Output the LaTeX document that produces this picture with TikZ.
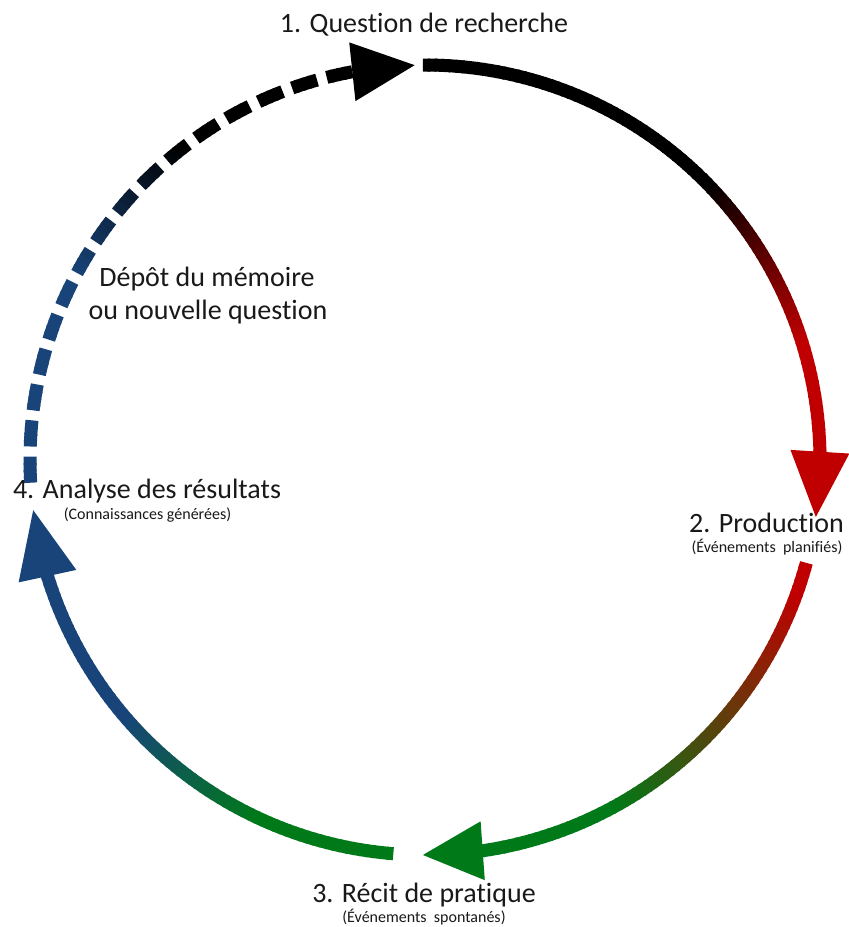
\documentclass[tikz,border=0pt]{standalone}
\usepackage{fontspec}
\setmainfont{Carlito}[Ligatures={NoCommon}]
\usetikzlibrary{calc}

\definecolor{cred}{RGB}{192,0,0}
\definecolor{cgreen}{RGB}{0,122,24}
\definecolor{cblue}{RGB}{24,68,122}
\definecolor{ctext}{RGB}{25,25,25}

\newcommand\cycR{395pt}

% Arc from angle #1 to #2, coloured from #3 (at angle #5) to #4 (at angle #6),
% drawn as #7 short overlapping pieces.
\newcommand\gradarc[7]{%
  \pgfmathtruncatemacro\gN{#7}%
  \foreach \gi in {1,...,\gN}{%
    \pgfmathsetmacro\ga{(#1)+((#2)-(#1))*max(\gi-1.3,0)/\gN}%
    \pgfmathsetmacro\gb{(#1)+((#2)-(#1))*\gi/\gN}%
    \pgfmathsetmacro\gm{(\ga+\gb)/2}%
    \pgfmathsetmacro\gt{100*max(0,min(1,((\gm)-(#5))/((#6)-(#5))))}%
    \draw[arcline, draw=#4!\gt!#3] (\ga:\cycR) arc[start angle=\ga, end angle=\gb, radius=\cycR];
  }%
}

% Triangular head: base centre at angle #1, tip at angle #2, colour #3, name #4
\newcommand\headtri[4]{%
  \coordinate (#4b) at (#1:\cycR);
  \coordinate (#4t) at (#2:\cycR);
  \fill[#3] ($(#4b)!29.5pt!90:(#4t)$) -- (#4t) -- ($(#4b)!29.5pt!-90:(#4t)$) -- cycle;
}

\tikzset{
  arcline/.style={line width=13pt},
  lbl/.style={anchor=base, inner sep=0pt, text=ctext, font=\fontsize{28}{33.6}\selectfont},
  sublbl/.style={anchor=base, inner sep=0pt, text=ctext, font=\fontsize{16}{19}\selectfont},
}

\begin{document}
\begin{tikzpicture}[x=1pt, y=1pt]
  \fill[white] (0,0) rectangle (849,927);
  \useasboundingbox (0,0) rectangle (849,927);

  \begin{scope}[shift={(425,467)}]
    % 1 -> 2 : black to red
    \gradarc{90.3}{0.2}{black}{cred}{44}{17}{90}
    \headtri{1.2}{-8.3}{cred}{hr}
    % 2 -> 3 : red to green
    \gradarc{-15.1}{-82.6}{cred}{cgreen}{-20}{-62}{68}
    \headtri{-81.6}{-90.3}{cgreen}{hg}
    % 3 -> 4 : green to blue
    \gradarc{265.4}{196.1}{cgreen}{cblue}{245}{220}{70}
    \headtri{197.1}{187.3}{cblue}{hb}
    % 4 -> 1 : dashed, blue to black
    \foreach \k in {0,...,15}{%
      \pgfmathsetmacro\ds{183.3-\k*5.26}%
      \pgfmathsetmacro\de{\ds-3.8}%
      \gradarc{\ds}{\de}{cblue}{black}{152}{128}{4}
    }
    \headtri{100.6}{91.5}{black}{hk}
  \end{scope}

  % Labels
  \node[lbl] (q1) at (424,894) {1. Question de recherche};
  \node[lbl] (q2) at (766.5,394) {2. Production};
  \node[sublbl] (q2s) at (767,374) {(Événements\ \ planifiés)};
  \node[lbl] (q3) at (424,24) {3. Récit de pratique};
  \node[sublbl] (q3s) at (424,5) {(Événements\ \ spontanés)};
  \node[lbl] (q4) at (147,428) {4. Analyse des résultats};
  \node[sublbl] (q4s) at (147.5,407) {(Connaissances générées)};
  \node[lbl] (dep1) at (207,640) {Dépôt du mémoire};
  \node[lbl] (dep2) at (208,607) {ou nouvelle question};
\end{tikzpicture}
\end{document}
